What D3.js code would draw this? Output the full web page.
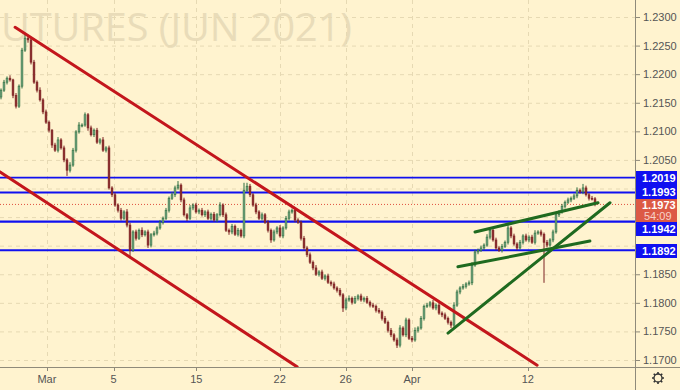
<!DOCTYPE html>
<html>
<head>
<meta charset="utf-8">
<script src="https://cdn.jsdelivr.net/npm/d3@7"></script>
<style>
  body { margin: 0; background: #fff3cf; }
  svg { display: block; }
</style>
</head>
<body>
<svg id="chart"></svg>
<script>
var W = 680, H = 390;
var plotR = 635, plotB = 367;

// 4h closes (bar 0 = late Feb)
var firstOpen = 1.2160;
var closes = [
  1.2172, 1.2186, 1.2193, 1.2190, 1.2163, 1.2144, 1.2179, 1.2242, 1.2263, 1.2260,
  1.2221, 1.2186, 1.2172, 1.2155, 1.2134, 1.2116, 1.2102, 1.2076, 1.2067, 1.2085,
  1.2071, 1.2050, 1.2032, 1.2041, 1.2067, 1.2099, 1.2111, 1.2111, 1.2129, 1.2106,
  1.2094, 1.2102, 1.2081, 1.2085, 1.2067, 1.2071, 1.2001, 1.1989, 1.1971, 1.1962,
  1.1948, 1.1959, 1.1936, 1.1892, 1.1924, 1.1913, 1.1927, 1.1919, 1.1924, 1.1901,
  1.1919, 1.1922, 1.1931, 1.1941, 1.1948, 1.1962, 1.1983, 1.1989, 1.2001, 1.2006,
  1.1980, 1.1954, 1.1948, 1.1966, 1.1971, 1.1959, 1.1962, 1.1954, 1.1959, 1.1948,
  1.1955, 1.1945, 1.1954, 1.1971, 1.1954, 1.1927, 1.1924, 1.1934, 1.1920, 1.1927,
  1.1917, 1.1997, 1.2004, 1.1989, 1.1971, 1.1959, 1.1948, 1.1954, 1.1941, 1.1927,
  1.1910, 1.1924, 1.1931, 1.1917, 1.1931, 1.1948, 1.1959, 1.1962, 1.1945, 1.1941,
  1.1913, 1.1896, 1.1884, 1.1871, 1.1861, 1.1850, 1.1854, 1.1843, 1.1847, 1.1836,
  1.1833, 1.1826, 1.1822, 1.1814, 1.1791, 1.1805, 1.1808, 1.1801, 1.1808, 1.1812,
  1.1805, 1.1808, 1.1801, 1.1796, 1.1794, 1.1787, 1.1784, 1.1773, 1.1766, 1.1752,
  1.1744, 1.1735, 1.1726, 1.1756, 1.1744, 1.1770, 1.1738, 1.1735, 1.1752, 1.1756,
  1.1773, 1.1794, 1.1796, 1.1800, 1.1791, 1.1796, 1.1782, 1.1779, 1.1773, 1.1766,
  1.1761, 1.1796, 1.1819, 1.1826, 1.1829, 1.1833, 1.1835, 1.1866, 1.1889, 1.1892,
  1.1896, 1.1901, 1.1915, 1.1927, 1.1910, 1.1896, 1.1892, 1.1899, 1.1906, 1.1931,
  1.1917, 1.1903, 1.1896, 1.1906, 1.1917, 1.1910, 1.1915, 1.1906, 1.1922, 1.1924,
  1.1920, 1.1906, 1.1901, 1.1910, 1.1924, 1.1954, 1.1959, 1.1969, 1.1976, 1.1980,
  1.1983, 1.1987, 1.1997, 1.1994, 1.2001, 1.1989, 1.1983, 1.1982, 1.1973
];
// wick lengths beyond the body, in pips
var wickHi = [
  3,4,3,5,2,4,3,4,9,4, 3,4,3,5,3,4,3,2,4,5, 3,4,3,5,4,3,5,3,4,3, 4,3,4,3,5,3,4,3,4,3,
  4,3,5,4,3,4,3,5,3,4, 3,4,3,4,3,4,3,5,4,7, 3,4,3,5,3,4,3,4,3,4, 3,4,3,5,3,4,3,4,3,4,
  3,13,6,4,3,4,3,4,3,4, 3,4,3,5,3,4,4,3,4,3, 3,4,3,4,3,5,3,4,3,4, 3,4,3,4,3,4,5,3,4,3,
  4,3,4,3,4,3,4,3,4,3, 4,3,4,5,3,4,3,4,5,3, 4,3,4,3,5,3,4,3,4,3, 3,5,4,3,4,3,4,5,4,3,
  4,3,5,4,3,4,3,4,3,5, 3,4,3,4,3,4,3,4,5,3, 4,3,4,3,4,5,3,4,3,4, 3,4,5,3,7,4,3,4,3
];
var wickLo = [
  4,3,4,3,5,4,3,4,3,5, 4,3,4,3,4,3,4,5,3,4, 3,4,10,4,3,4,3,4,3,5, 3,4,3,4,3,4,3,4,3,4,
  4,3,4,14,3,4,3,4,3,5, 4,3,4,3,4,3,4,3,4,3, 4,3,5,3,4,3,4,3,4,3, 4,3,4,3,4,3,5,4,3,4,
  3,4,3,4,3,4,3,4,3,4, 5,3,4,3,4,3,4,3,4,3, 4,3,4,3,4,3,4,3,4,3, 4,3,4,3,7,4,3,4,3,4,
  3,4,3,4,3,4,3,4,3,4, 4,3,5,4,3,4,3,4,3,4, 3,4,3,4,3,4,3,4,3,4, 5,4,3,4,3,4,3,4,3,4,
  3,4,3,4,3,4,3,4,3,4, 4,3,4,3,4,3,4,3,4,3, 4,71,4,3,4,3,4,3,4,3, 4,3,4,3,4,3,4,3,4
];

// date labels and the bar they sit on
var dateLabels = ["Mar", "5", "15", "22", "26", "Apr", "12"];
var dateBars = [15.3, 37.5, 65.1, 92.9, 114.9, 137, 175.6];

var priceTicks = [1.17, 1.175, 1.18, 1.185, 1.19, 1.195, 1.20, 1.205, 1.21, 1.215, 1.22, 1.225, 1.23];

// support / resistance levels
var levels = [1.2019, 1.1993, 1.1942, 1.1892];
var lastPrice = 1.1973;
var countdown = "54:09";

// trend lines as [bar, price] pairs
var redLines = [
  [[4.7, 1.2282], [178.7, 1.1691]],
  [[-0.3, 1.2029], [98.7, 1.1688]]
];
var greenLines = [
  [[149, 1.1747], [203, 1.1975]],
  [[158, 1.1924], [199, 1.1975]],
  [[152.3, 1.1863], [196.3, 1.1908]]
];

var data = closes.map(function(c, i) {
  var o = i === 0 ? firstOpen : closes[i - 1];
  return {
    i: i, o: o, c: c,
    h: Math.max(o, c) + wickHi[i] / 10000,
    l: Math.min(o, c) - wickLo[i] / 10000
  };
});

var svg = d3.select("#chart").attr("width", W).attr("height", H);

var x = d3.scaleLinear().domain([-1 / 3, 211.33]).range([0, plotR]);
var y = d3.scaleLinear().domain([1.17, 1.23]).range([360, 17]);

svg.append("rect").attr("width", W).attr("height", H).attr("fill", "#fff3cf");

svg.append("defs").append("clipPath").attr("id", "plot")
  .append("rect").attr("width", plotR).attr("height", plotB);

// watermark, only the part that shows on the original
svg.append("text")
  .attr("x", 1).attr("y", 41)
  .attr("font-family", "Open Sans, sans-serif")
  .attr("font-size", 38)
  .attr("textLength", 351)
  .attr("lengthAdjust", "spacingAndGlyphs")
  .attr("fill", "#e9dcb9")
  .text("UTURES (JUN 2021)");

// grid
var grid = svg.append("g").attr("stroke", "#e6d9b3").attr("stroke-dasharray", "4,4");
grid.selectAll("line.h").data(priceTicks).join("line")
  .attr("x1", 0).attr("x2", plotR)
  .attr("y1", d => y(d) + 0.5).attr("y2", d => y(d) + 0.5);
grid.selectAll("line.v").data(dateBars).join("line")
  .attr("x1", d => Math.round(x(d)) + 0.5).attr("x2", d => Math.round(x(d)) + 0.5)
  .attr("y1", 0).attr("y2", plotB);

var plot = svg.append("g").attr("clip-path", "url(#plot)");

// levels
plot.selectAll("line.lvl").data(levels).join("line")
  .attr("x1", 0).attr("x2", plotR)
  .attr("y1", d => y(d)).attr("y2", d => y(d))
  .attr("stroke", "#1010f0")
  .attr("stroke-width", (d, i) => i === 0 ? 1.6 : 2.2);

plot.append("line")
  .attr("x1", 0).attr("x2", plotR)
  .attr("y1", y(lastPrice) + 0.5).attr("y2", y(lastPrice) + 0.5)
  .attr("stroke", "#e0523f").attr("stroke-dasharray", "1,2");

// candles
var candles = plot.append("g").selectAll("g").data(data).join("g")
  .attr("stroke", d => d.c >= d.o ? "#2f6e40" : "#7d2323")
  .attr("fill", d => d.c >= d.o ? "#7fae8a" : "#8e3030");
candles.append("line")
  .attr("x1", d => x(d.i)).attr("x2", d => x(d.i))
  .attr("y1", d => y(d.h)).attr("y2", d => y(d.l))
  .attr("stroke-width", 1);
candles.append("rect")
  .attr("x", d => x(d.i) - 0.9)
  .attr("width", 1.8)
  .attr("y", d => y(Math.max(d.o, d.c)))
  .attr("height", d => Math.max(1, Math.abs(y(d.o) - y(d.c))))
  .attr("stroke-width", 0.6);

// trend lines
plot.selectAll("line.red").data(redLines).join("line")
  .attr("x1", d => x(d[0][0])).attr("y1", d => y(d[0][1]))
  .attr("x2", d => x(d[1][0])).attr("y2", d => y(d[1][1]))
  .attr("stroke", "#c3161c").attr("stroke-width", 3).attr("stroke-linecap", "round");
plot.selectAll("line.green").data(greenLines).join("line")
  .attr("x1", d => x(d[0][0])).attr("y1", d => y(d[0][1]))
  .attr("x2", d => x(d[1][0])).attr("y2", d => y(d[1][1]))
  .attr("stroke", "#1f6a1f").attr("stroke-width", 3).attr("stroke-linecap", "round");

// axes
svg.append("line").attr("x1", plotR + 0.5).attr("x2", plotR + 0.5)
  .attr("y1", 0).attr("y2", H).attr("stroke", "#8f8a7a");
svg.append("line").attr("x1", 0).attr("x2", W)
  .attr("y1", plotB + 0.5).attr("y2", plotB + 0.5).attr("stroke", "#8f8a7a");

// tick labels that sit under the price tags are hidden, as on the original
var tagTops = [171, 185, 199, 222, 244];
var tagBottoms = [185, 199, 222, 236, 258];
function underTag(p) {
  var yy = y(p);
  return tagTops.some(function(t, i) { return yy + 5 > t && yy - 5 < tagBottoms[i]; });
}

var yAxis = svg.append("g").attr("font-family", "Liberation Sans, Arial, sans-serif").attr("font-size", 11);
yAxis.selectAll("line").data(priceTicks).join("line")
  .attr("x1", plotR).attr("x2", plotR + 5)
  .attr("y1", d => y(d) + 0.5).attr("y2", d => y(d) + 0.5)
  .attr("stroke", "#8f8a7a");
yAxis.selectAll("text").data(priceTicks.filter(p => !underTag(p))).join("text")
  .attr("x", 643).attr("y", d => y(d) + 4)
  .attr("fill", "#555")
  .text(d => d3.format(".4f")(d));

var xAxis = svg.append("g").attr("font-family", "Liberation Sans, Arial, sans-serif").attr("font-size", 11);
xAxis.selectAll("line").data(dateBars).join("line")
  .attr("x1", d => Math.round(x(d)) + 0.5).attr("x2", d => Math.round(x(d)) + 0.5)
  .attr("y1", plotB).attr("y2", plotB + 4)
  .attr("stroke", "#8f8a7a");
xAxis.selectAll("text").data(dateLabels).join("text")
  .attr("x", (d, i) => x(dateBars[i]))
  .attr("y", 383)
  .attr("text-anchor", "middle")
  .attr("fill", "#555")
  .text(d => d);

// price tags on the axis
var boxTops = [171, 185, 222, 244];
var tags = svg.append("g").attr("font-family", "Liberation Sans, Arial, sans-serif")
  .attr("font-size", 11).attr("font-weight", "bold");
tags.selectAll("rect").data(levels).join("rect")
  .attr("x", plotR + 1).attr("y", (d, i) => boxTops[i])
  .attr("width", 41).attr("height", 14)
  .attr("fill", "#1010f0");
tags.selectAll("text").data(levels).join("text")
  .attr("x", 642).attr("y", (d, i) => boxTops[i] + 11)
  .attr("fill", "#fff")
  .text(d => d3.format(".4f")(d));

tags.append("rect")
  .attr("x", plotR + 1).attr("y", 199).attr("width", 41).attr("height", 23)
  .attr("fill", "#dc5a45");
tags.append("text").attr("x", 642).attr("y", 209).attr("fill", "#fff")
  .text(d3.format(".4f")(lastPrice));
tags.append("text").attr("x", 644).attr("y", 220).attr("fill", "#f7d3c9")
  .attr("font-weight", "normal")
  .text(countdown);

// settings gear
var gear = svg.append("g").attr("transform", "translate(658,378)")
  .attr("stroke", "#333").attr("fill", "none");
gear.append("circle").attr("r", 4).attr("stroke-width", 1.3);
gear.selectAll("line").data(d3.range(8)).join("line")
  .attr("x1", d => 4 * Math.cos(d * Math.PI / 4)).attr("y1", d => 4 * Math.sin(d * Math.PI / 4))
  .attr("x2", d => 6 * Math.cos(d * Math.PI / 4)).attr("y2", d => 6 * Math.sin(d * Math.PI / 4))
  .attr("stroke-width", 1.6);
</script>
</body>
</html>
